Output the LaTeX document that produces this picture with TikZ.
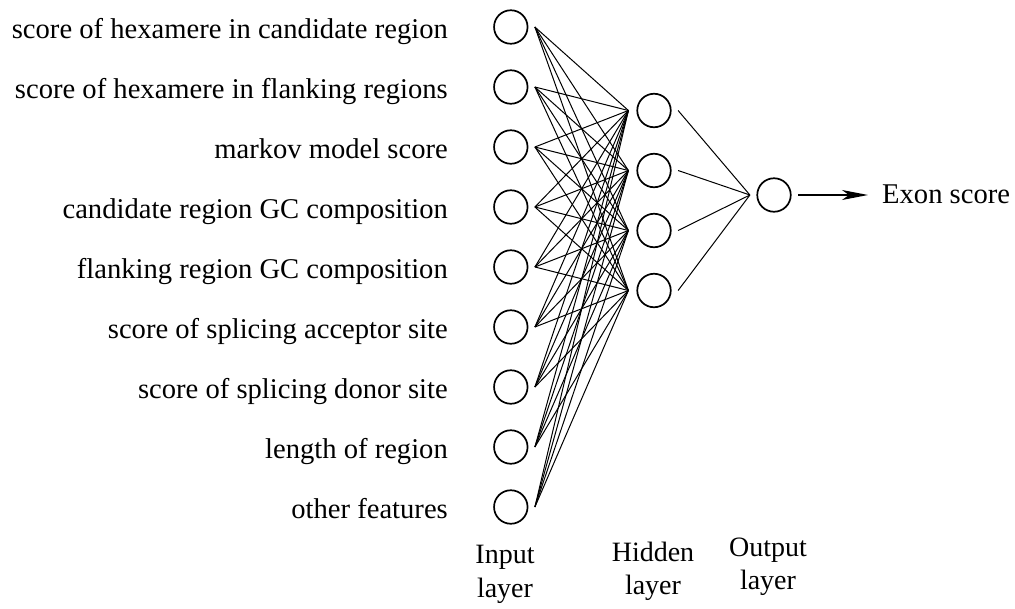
\documentclass[tikz,border=0pt]{standalone}
\usepackage{fontspec}
\setmainfont{Liberation Serif}
\usetikzlibrary{arrows.meta}
\begin{document}
\begin{tikzpicture}[x=1pt,y=-1pt,
  neuron/.style={circle,draw,line width=1.7pt,minimum size=33.5pt,inner sep=0pt},
  link/.style={line width=1pt},
  feat/.style={anchor=base east,inner sep=0pt,font=\fontsize{28.6}{34}\selectfont},
  layername/.style={anchor=base,inner sep=0pt,font=\fontsize{28}{34}\selectfont}]
\useasboundingbox (0,0) rectangle (1015,608);

% input layer with feature labels
\foreach \t [count=\i] in {score of hexamere in candidate region,
  score of hexamere in flanking regions,
  markov model score,
  candidate region GC composition,
  flanking region GC composition,
  score of splicing acceptor site,
  score of splicing donor site,
  length of region,
  other features}{
  \node[neuron] (i\i) at (510.8,{27+60*(\i-1)}) {};
  \node[feat] (l\i) at (448,{38+60*(\i-1)}) {\t};
}

% hidden layer
\foreach \j in {1,...,4}
  \node[neuron] (h\j) at (654,{110.5+60*(\j-1)}) {};

% output node
\node[neuron] (o) at (774,195) {};
\node[anchor=base west,inner sep=0pt,font=\fontsize{28.6}{34}\selectfont] (res) at (882,203) {Exon score};
\coordinate (tip) at (868,195);

% input -> hidden connections
\foreach \i in {1,...,9}
  \foreach \j in {1,...,4}
    \draw[link] ([xshift=6.5pt]i\i.east) -- ([xshift=-8pt]h\j.west);

% hidden -> output connections
\foreach \j in {1,...,4}
  \draw[link] ([xshift=6.5pt]h\j.east) -- ([xshift=-6.5pt]o.west);

% output arrow
\draw[line width=1.2pt,-{Stealth[length=26pt,width=10pt,inset=7pt]}] ([xshift=6.5pt]o.east) -- (tip);

% layer captions
\node[layername] (in1) at (505,563) {Input};
\node[layername] (in2) at (505,597) {layer};
\node[layername] (hd1) at (653,561) {Hidden};
\node[layername] (hd2) at (653,594) {layer};
\node[layername] (ou1) at (768,556) {Output};
\node[layername] (ou2) at (768,589) {layer};
\end{tikzpicture}
\end{document}
